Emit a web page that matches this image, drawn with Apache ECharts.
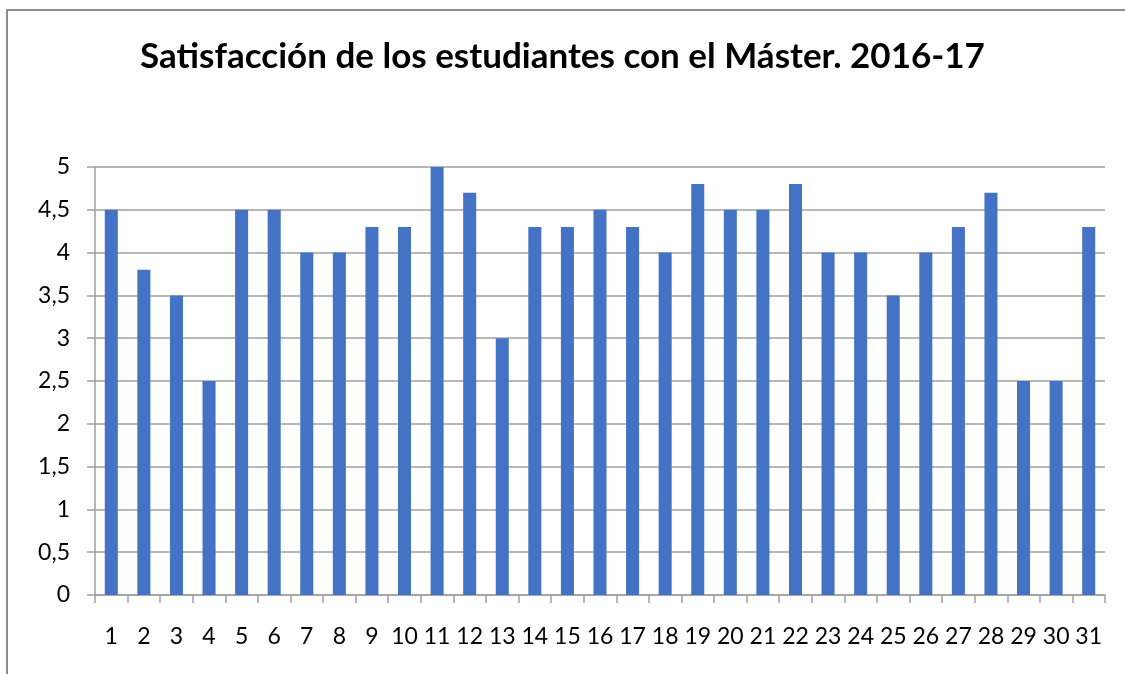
<!DOCTYPE html>
<html>
<head>
<meta charset="utf-8">
<script src="https://cdn.jsdelivr.net/npm/echarts@6/dist/echarts.min.js"></script>
<style>
  html, body { margin: 0; padding: 0; background: #fff; }
  #frame { position: absolute; left: 6px; top: 9px; width: 1119px; height: 665px;
           border-left: 2px solid #8c8c8c; border-top: 2px solid #8c8c8c; }
  #chart { position: absolute; left: 0; top: 0; width: 1125px; height: 674px; }
</style>
</head>
<body>
<div id="frame"></div>
<div id="chart"></div>
<script>
const categories = ['1','2','3','4','5','6','7','8','9','10','11','12','13','14','15','16',
  '17','18','19','20','21','22','23','24','25','26','27','28','29','30','31']
const satisfaction = [4.5, 3.8, 3.5, 2.5, 4.5, 4.5, 4, 4, 4.3, 4.3, 5, 4.7, 3, 4.3, 4.3, 4.5,
  4.3, 4, 4.8, 4.5, 4.5, 4.8, 4, 4, 3.5, 4, 4.3, 4.7, 2.5, 2.5, 4.3]

const font = 'Lato, "Open Sans", sans-serif'
const chart = echarts.init(document.getElementById('chart'))
chart.setOption({
  animation: false,
  title: {
    text: 'Satisfacción de los estudiantes con el Máster. 2016-17',
    left: 'center',
    top: 34,
    textStyle: { fontFamily: font, fontSize: 35, fontWeight: 'bold', color: '#000' }
  },
  grid: { left: 95, right: 20, top: 167, bottom: 79 },
  xAxis: {
    type: 'category',
    data: categories,
    axisLine: { lineStyle: { color: '#a0a0a0', width: 1.5 } },
    axisTick: { show: true, length: 8, lineStyle: { color: '#a0a0a0', width: 1.5 } },
    axisLabel: { color: '#000', fontFamily: font, fontSize: 23, margin: 30, interval: 0 }
  },
  yAxis: {
    type: 'value',
    min: 0,
    max: 5,
    interval: 0.5,
    axisLine: { show: true, lineStyle: { color: '#a0a0a0', width: 1.5 } },
    axisTick: { show: true, length: 8, lineStyle: { color: '#a0a0a0', width: 1.5 } },
    splitLine: { lineStyle: { color: '#a0a0a0', width: 1.5 } },
    axisLabel: {
      color: '#000', fontFamily: font, fontSize: 23, margin: 25,
      formatter: v => String(v).replace('.', ',')
    }
  },
  series: [{
    type: 'bar',
    data: satisfaction,
    barWidth: '40%',
    itemStyle: { color: '#4472c4' }
  }]
})
</script>
</body>
</html>
